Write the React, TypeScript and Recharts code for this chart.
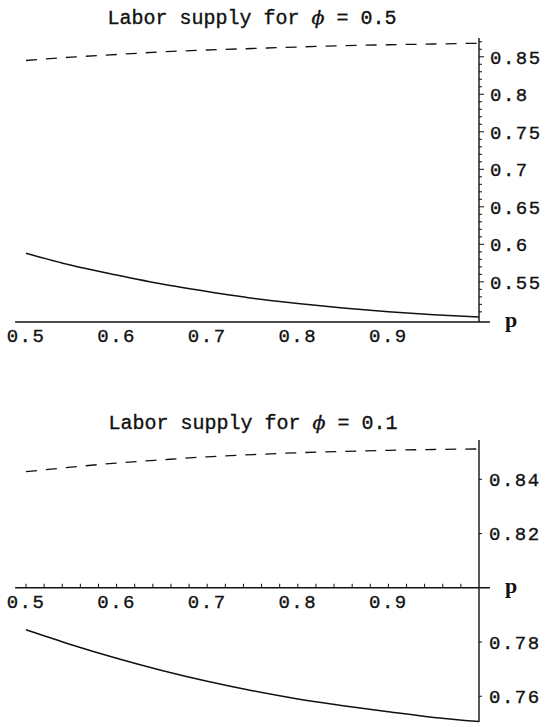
import React from 'react';
import { LineChart, Line, XAxis, YAxis, ReferenceLine, ReferenceDot } from 'recharts';

// ---- data ----
const pValues = [0.5, 0.55, 0.6, 0.65, 0.7, 0.75, 0.8, 0.85, 0.9, 0.95, 1.0];
const topSolid = [0.588, 0.572, 0.559, 0.547, 0.537, 0.528, 0.521, 0.515, 0.51, 0.506, 0.503];
const topDashed = [0.845, 0.8495, 0.853, 0.8565, 0.859, 0.861, 0.863, 0.8647, 0.866, 0.867, 0.868];
const bottomSolid = [0.7845, 0.779, 0.774, 0.7695, 0.7655, 0.762, 0.759, 0.7565, 0.7543, 0.7522, 0.7507];
const bottomDashed = [0.8428, 0.8445, 0.846, 0.8472, 0.8483, 0.8491, 0.8498, 0.8503, 0.8507, 0.851, 0.8512];

// ---- tick labels ----
const xTickLabels = [0.5, 0.6, 0.7, 0.8, 0.9];
const xMinorTicks = [0.5, 0.52, 0.54, 0.56, 0.58, 0.6, 0.62, 0.64, 0.66, 0.68, 0.7, 0.72, 0.74, 0.76, 0.78, 0.8, 0.82, 0.84, 0.86, 0.88, 0.9, 0.92, 0.94, 0.96, 0.98];
const topYMajor = [0.55, 0.6, 0.65, 0.7, 0.75, 0.8, 0.85];
const topYTicks = [0.51, 0.52, 0.53, 0.54, 0.55, 0.56, 0.57, 0.58, 0.59, 0.6, 0.61, 0.62, 0.63, 0.64, 0.65, 0.66, 0.67, 0.68, 0.69, 0.7, 0.71, 0.72, 0.73, 0.74, 0.75, 0.76, 0.77, 0.78, 0.79, 0.8, 0.81, 0.82, 0.83, 0.84, 0.85, 0.86, 0.87];
const bottomYMajor = [0.76, 0.78, 0.82, 0.84];

const topTitle = 'Labor supply for ';
const topTitleValue = ' = 0.5';
const bottomTitleValue = ' = 0.1';

const topRows = pValues.map((p, i) => ({ p, solid: topSolid[i], dashed: topDashed[i] }));
const bottomRows = pValues.map((p, i) => ({ p, solid: bottomSolid[i], dashed: bottomDashed[i] }));

const INK = '#111';
const MONO = '"Liberation Mono", "DejaVu Sans Mono", monospace';
const TICK_FONT = 19;
const TEXT_STROKE = 0.35;

const TopYTick = (props: any) => {
  const { x, y, payload } = props;
  const v = payload.value;
  const major = topYMajor.includes(v);
  return (
    <g>
      <line x1={x} y1={y} x2={x + (major ? 5 : 3)} y2={y} stroke={INK} strokeWidth={1} />
      {major && (
        <text x={x + 11} y={y} dy="0.36em" fontFamily={MONO} fontSize={TICK_FONT} letterSpacing={1.5} fill={INK} stroke={INK} strokeWidth={TEXT_STROKE}>
          {String(v)}
        </text>
      )}
    </g>
  );
};

const BottomYTick = (props: any) => {
  const { x, y, payload } = props;
  return (
    <g>
      <line x1={x} y1={y} x2={x + 3} y2={y} stroke={INK} strokeWidth={1} />
      <text x={x + 10} y={y} dy="0.36em" fontFamily={MONO} fontSize={TICK_FONT} letterSpacing={1.5} fill={INK} stroke={INK} strokeWidth={TEXT_STROKE}>
        {String(payload.value)}
      </text>
    </g>
  );
};

const TopXTick = (props: any) => {
  const { x, y, payload } = props;
  return (
    <text x={x} y={y + 13} dy="0.36em" textAnchor="middle" fontFamily={MONO} fontSize={TICK_FONT} letterSpacing={1.5} fill={INK} stroke={INK} strokeWidth={TEXT_STROKE}>
      {String(payload.value)}
    </text>
  );
};

const PLabel = (props: any) => {
  const { cx, cy } = props;
  return (
    <text x={cx + 26} y={cy + 5} fontFamily='"Liberation Serif", serif' fontWeight="bold" fontSize={22} fill={INK}>
      p
    </text>
  );
};

const minorXTickShape = (props: any) => {
  const { cx, cy } = props;
  return <line x1={cx} y1={cy} x2={cx} y2={cy - 4} stroke={INK} strokeWidth={1} />;
};

const xLabelShape = (props: any) => {
  const { cx, cy, value } = props;
  return (
    <text x={cx} y={cy + 13} dy="0.36em" textAnchor="middle" fontFamily={MONO} fontSize={TICK_FONT} letterSpacing={1.5} fill={INK} stroke={INK} strokeWidth={TEXT_STROKE}>
      {value}
    </text>
  );
};

const Title = ({ x, y, value }: { x: number; y: number; value: string }) => (
  <text x={x} y={y} dy="0.36em" textAnchor="middle" fontFamily={MONO} fontSize={20} fill={INK} stroke={INK} strokeWidth={TEXT_STROKE}>
    {topTitle}
    <tspan fontFamily='"DejaVu Serif", serif' fontStyle="italic" fontSize={19}>ϕ</tspan>
    {value}
  </text>
);

const TOP_YMIN = 0.4965;
const TOP_YMAX = 0.875;
const BOT_YMIN = 0.7505;
const BOT_YMAX = 0.8545;
const BOT_XAXIS = 0.8;

export default function App() {
  return (
    <div style={{ position: 'absolute', left: 0, top: 0, width: 545, height: 727, background: '#fff' }}>
      <svg width={545} height={727} style={{ position: 'absolute', left: 0, top: 0 }}>
        <Title x={252} y={17} value={topTitleValue} />
        <Title x={253} y={422} value={bottomTitleValue} />
      </svg>

      <div style={{ position: 'absolute', left: 0, top: 0 }}>
        <LineChart width={545} height={362} data={topRows} margin={{ top: 38, right: 0, bottom: 0, left: 26 }}>
          <XAxis
            type="number"
            dataKey="p"
            domain={[0.5, 1.0]}
            ticks={xTickLabels}
            interval={0}
            axisLine={false}
            tickLine={false}
            tickSize={0}
            tickMargin={0}
            height={40}
            tick={<TopXTick />}
          />
          <YAxis
            orientation="right"
            type="number"
            domain={[TOP_YMIN, TOP_YMAX]}
            ticks={topYTicks}
            interval={0}
            width={66}
            axisLine={{ stroke: INK, strokeWidth: 1.4 }}
            tickLine={false}
            tickSize={0}
            tickMargin={0}
            tick={<TopYTick />}
          />
          <ReferenceLine
            segment={[{ x: 0.488, y: TOP_YMIN }, { x: 1.012, y: TOP_YMIN }]}
            ifOverflow="visible"
            stroke={INK}
            strokeWidth={1.6}
          />
          <ReferenceDot x={1.0} y={TOP_YMIN} ifOverflow="visible" shape={<PLabel />} />
          <Line dataKey="dashed" type="monotone" stroke={INK} strokeWidth={1.3} strokeDasharray="11 9" dot={false} isAnimationActive={false} />
          <Line dataKey="solid" type="monotone" stroke={INK} strokeWidth={1.5} dot={false} isAnimationActive={false} />
        </LineChart>
      </div>

      <div style={{ position: 'absolute', left: 0, top: 400 }}>
        <LineChart width={545} height={327} data={bottomRows} margin={{ top: 40, right: 0, bottom: 5, left: 26 }}>
          <XAxis type="number" dataKey="p" domain={[0.5, 1.0]} hide />
          <YAxis
            orientation="right"
            type="number"
            domain={[BOT_YMIN, BOT_YMAX]}
            ticks={bottomYMajor}
            interval={0}
            width={66}
            axisLine={{ stroke: INK, strokeWidth: 1.4 }}
            tickLine={false}
            tickSize={0}
            tickMargin={0}
            tick={<BottomYTick />}
          />
          <ReferenceLine
            segment={[{ x: 0.488, y: BOT_XAXIS }, { x: 1.012, y: BOT_XAXIS }]}
            ifOverflow="visible"
            stroke={INK}
            strokeWidth={1.6}
          />
          {xMinorTicks.map((v) => (
            <ReferenceDot key={'m' + v} x={v} y={BOT_XAXIS} ifOverflow="visible" shape={minorXTickShape} />
          ))}
          {xTickLabels.map((v) => (
            <ReferenceDot
              key={'l' + v}
              x={v}
              y={BOT_XAXIS}
              ifOverflow="visible"
              shape={(props: any) => xLabelShape({ ...props, value: String(v) })}
            />
          ))}
          <ReferenceDot x={1.0} y={BOT_XAXIS} ifOverflow="visible" shape={<PLabel />} />
          <Line dataKey="dashed" type="monotone" stroke={INK} strokeWidth={1.3} strokeDasharray="11 9" dot={false} isAnimationActive={false} />
          <Line dataKey="solid" type="monotone" stroke={INK} strokeWidth={1.5} dot={false} isAnimationActive={false} />
        </LineChart>
      </div>
    </div>
  );
}
